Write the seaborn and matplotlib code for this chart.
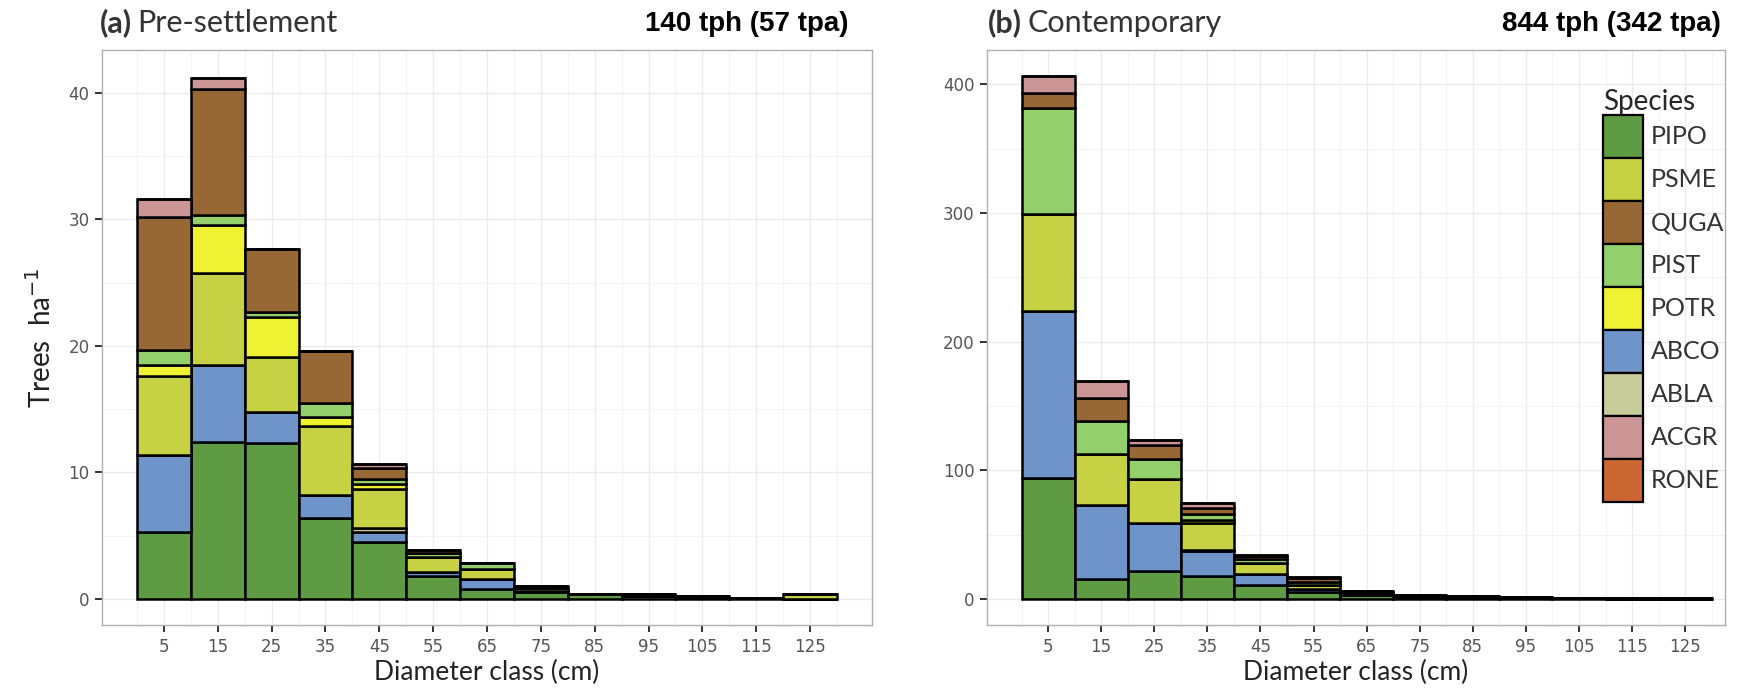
import numpy as np
import pandas as pd
import matplotlib
matplotlib.use("Agg")
import matplotlib.pyplot as plt
import seaborn as sns
from matplotlib.patches import Patch
from matplotlib.ticker import MultipleLocator

# ---------------- data ----------------
classes = [5, 15, 25, 35, 45, 55, 65, 75, 85, 95, 105, 115, 125]
tick_labels = [str(c) for c in classes]
stack_order = ["PIPO", "ABCO", "ABLA", "PSME", "POTR", "PIST", "QUGA", "ACGR", "RONE"]
legend_order = ["PIPO", "PSME", "QUGA", "PIST", "POTR", "ABCO", "ABLA", "ACGR", "RONE"]

# (a) Pre-settlement, trees per ha
pre_PIPO = [5.3, 12.4, 12.3, 6.4, 4.5, 1.8, 0.75, 0.55, 0.35, 0.2, 0.15, 0.05, 0.0]
pre_ABCO = [6.1, 6.1, 2.5, 1.8, 0.8, 0.3, 0.8, 0.1, 0.0, 0.0, 0.0, 0.0, 0.0]
pre_ABLA = [0.0, 0.0, 0.0, 0.0, 0.3, 0.0, 0.0, 0.0, 0.0, 0.0, 0.0, 0.0, 0.0]
pre_PSME = [6.2, 7.3, 4.3, 5.5, 3.1, 1.2, 0.8, 0.2, 0.0, 0.1, 0.0, 0.0, 0.35]
pre_POTR = [0.9, 3.8, 3.2, 0.7, 0.35, 0.0, 0.0, 0.0, 0.0, 0.0, 0.0, 0.0, 0.0]
pre_PIST = [1.2, 0.75, 0.4, 1.1, 0.4, 0.3, 0.45, 0.0, 0.0, 0.0, 0.0, 0.0, 0.0]
pre_QUGA = [10.5, 10.0, 5.0, 4.1, 0.9, 0.3, 0.0, 0.2, 0.0, 0.1, 0.08, 0.0, 0.0]
pre_ACGR = [1.4, 0.8, 0.0, 0.0, 0.3, 0.0, 0.0, 0.0, 0.0, 0.0, 0.0, 0.0, 0.0]
pre_RONE = [0.0, 0.0, 0.0, 0.0, 0.0, 0.0, 0.0, 0.0, 0.0, 0.0, 0.0, 0.0, 0.0]

# (b) Contemporary, trees per ha
con_PIPO = [94, 15.5, 22, 18, 11, 5.5, 3.0, 1.5, 1.0, 0.8, 0.4, 0.3, 0.3]
con_ABCO = [130, 57.5, 37, 19, 8, 2.5, 1.0, 0.0, 0.5, 0.0, 0.0, 0.0, 0.0]
con_ABLA = [0, 0, 0, 1.0, 0, 0, 0, 0, 0, 0, 0, 0, 0]
con_PSME = [75, 39.5, 34, 21, 9, 3.0, 1.5, 0.8, 0.5, 0.7, 0.3, 0.2, 0.2]
con_POTR = [0, 0, 0, 2.5, 0, 0, 0, 0, 0, 0, 0, 0, 0]
con_PIST = [82.5, 25.5, 15.5, 4.5, 3.0, 2.0, 0, 0, 0, 0, 0, 0, 0]
con_QUGA = [12, 18.5, 11.5, 5.0, 2.5, 3.0, 1.0, 0.7, 0, 0, 0, 0, 0]
con_ACGR = [13, 13, 3.5, 3.5, 1.0, 1.0, 0, 0, 0, 0, 0, 0, 0]
con_RONE = [0, 0, 0, 0, 0, 0, 0, 0, 0, 0, 0, 0, 0]

title_tags = ["(a)", "(b)"]
title_names = ["Pre-settlement", "Contemporary"]
titles_right = ["140 tph (57 tpa)", "844 tph (342 tpa)"]

colors = {
    "PIPO": "#5f9b42", "PSME": "#c6d143", "QUGA": "#976836", "PIST": "#93cf6a",
    "POTR": "#eff233", "ABCO": "#6e94c9", "ABLA": "#c8cc9b", "ACGR": "#cc9595",
    "RONE": "#cc6633",
}

def long_df(d):
    rows = []
    for sp in stack_order:
        for c, v in zip(classes, d[sp]):
            rows.append({"dbh": c, "species": sp, "tph": v})
    return pd.DataFrame(rows)

pre = long_df({"PIPO": pre_PIPO, "ABCO": pre_ABCO, "ABLA": pre_ABLA, "PSME": pre_PSME,
               "POTR": pre_POTR, "PIST": pre_PIST, "QUGA": pre_QUGA, "ACGR": pre_ACGR,
               "RONE": pre_RONE})
con = long_df({"PIPO": con_PIPO, "ABCO": con_ABCO, "ABLA": con_ABLA, "PSME": con_PSME,
               "POTR": con_POTR, "PIST": con_PIST, "QUGA": con_QUGA, "ACGR": con_ACGR,
               "RONE": con_RONE})

# ---------------- figure ----------------
sns.set_theme(style="white")
plt.rcParams["font.family"] = ["Lato", "DejaVu Sans"]

W, H = 1742, 696
fig = plt.figure(figsize=(W / 100, H / 100), dpi=100)
axA = fig.add_axes([102 / W, 1 - 625 / H, (872 - 102) / W, (625 - 50) / H])
axB = fig.add_axes([987 / W, 1 - 625 / H, (1725 - 987) / W, (625 - 50) / H])

tick_col = "#555555"

for ax, df, ylim, ymaj, xlim in [
    (axA, pre, (-2.07, 43.4), 10, (-6.5, 136.5)),
    (axB, con, (-20.3, 426.8), 100, (-6.5, 132.5)),
]:
    sns.histplot(data=df, x="dbh", weights="tph", hue="species",
                 hue_order=stack_order[::-1], palette=colors, binwidth=10,
                 binrange=(0, 130),
                 multiple="stack", alpha=1, edgecolor="black", linewidth=1.8,
                 legend=False, ax=ax, zorder=3)
    ax.set_xlim(*xlim)
    ax.set_ylim(*ylim)
    ax.set_xticks(classes)
    ax.set_xticklabels(tick_labels)
    ax.xaxis.set_minor_locator(MultipleLocator(10))
    ax.yaxis.set_major_locator(MultipleLocator(ymaj))
    ax.yaxis.set_minor_locator(MultipleLocator(ymaj / 2))
    ax.grid(True, which="major", color="#ebebeb", linewidth=1.0, zorder=0)
    ax.grid(True, which="minor", color="#f3f3f3", linewidth=0.8, zorder=0)
    ax.set_axisbelow(True)
    for s in ax.spines.values():
        s.set_color("#b0b0b0")
        s.set_linewidth(1.0)
    ax.tick_params(axis="both", which="major", length=5, width=1.4, color="#333333",
                   labelsize=12, labelcolor=tick_col, pad=4, left=True, bottom=True)
    ax.tick_params(axis="both", which="minor", length=0)
    for lab in ax.get_xticklabels() + ax.get_yticklabels():
        lab.set_family(["DejaVu Sans"])
    ax.set_xlabel("Diameter class (cm)", fontsize=19, color="#222222", labelpad=3)
    ax.set_ylabel("")

axA.set_ylabel("Trees  ha$^{-1}$", fontsize=20, color="#222222", labelpad=9)

# titles
fig.canvas.draw()
renderer = fig.canvas.get_renderer()
for tag, name, x0 in [(title_tags[0], title_names[0], 100), (title_tags[1], title_names[1], 988)]:
    t1 = fig.text(x0 / W, 1 - 23 / H, tag, fontsize=22, fontweight="bold",
                  va="center", ha="left", color="#333333")
    bb = t1.get_window_extent(renderer)
    fig.text((bb.x1 + 5) / W, 1 - 23 / H, name, fontsize=22, va="center",
             ha="left", color="#333333")

for txt, xr in [(titles_right[0], 848), (titles_right[1], 1721)]:
    fig.text(xr / W, 1 - 24 / H, txt, fontsize=20, fontweight="bold", va="center",
             ha="right", color="black",
             family=["Liberation Sans Narrow", "Liberation Sans", "DejaVu Sans"])

handles = [Patch(facecolor=colors[s], edgecolor="black", linewidth=1.6, label=s)
           for s in legend_order]
leg = axB.legend(handles=handles, title="Species", loc="upper right",
                 bbox_to_anchor=(1.012, 0.95), frameon=False, fontsize=18,
                 title_fontsize=20, handlelength=1.6, handleheight=2.27,
                 labelspacing=0.0, handletextpad=0.3, borderaxespad=0.0)
leg._legend_box.align = "left"
for t in leg.get_texts():
    t.set_color("#333333")

fig.savefig("out.png", dpi=100)
